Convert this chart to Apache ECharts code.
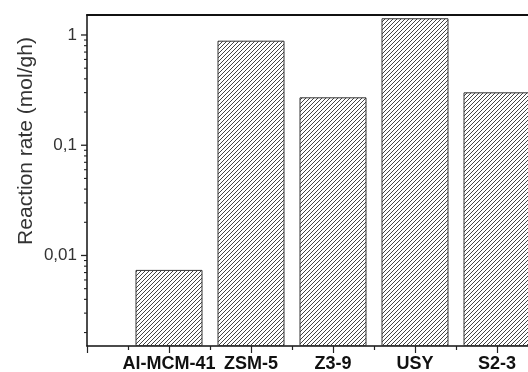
<!DOCTYPE html>
<html>
<head>
<meta charset="utf-8">
<script src="https://cdn.jsdelivr.net/npm/echarts@6/dist/echarts.min.js"></script>
<style>html,body{margin:0;padding:0;background:#fff}#c{width:528px;height:372px}</style>
</head>
<body>
<div id="c"></div>
<script>
// Data
var categories = ['Al-MCM-41', 'ZSM-5', 'Z3-9', 'USY', 'S2-3'];
var positions = [1, 2, 3, 4, 5];
var rates = [0.0074, 0.888, 0.272, 1.418, 0.302];
var yMajorTicks = [0.01, 0.1, 1];
var yMinorTicks = [0.002,0.003,0.004,0.005,0.006,0.007,0.008,0.009,
                   0.02,0.03,0.04,0.05,0.06,0.07,0.08,0.09,
                   0.2,0.3,0.4,0.5,0.6,0.7,0.8,0.9];
var yMin = 0.00151, yMax = 1.518;
var yTitle = 'Reaction rate (mol/gh)';

// hatch pattern
var pc = document.createElement('canvas');
pc.width = 4; pc.height = 4;
var g = pc.getContext('2d');
g.fillStyle = '#fff'; g.fillRect(0,0,4,4);
g.strokeStyle = '#444'; g.lineWidth = 1;
g.beginPath();
g.moveTo(-1,5); g.lineTo(5,-1);
g.moveTo(-1,1); g.lineTo(1,-1);
g.moveTo(3,5); g.lineTo(5,3);
g.stroke();

var barData = positions.map(function(p,i){ return [p, rates[i]]; });
var majorTickData = yMajorTicks.map(function(v){ return [0, v]; });
var minorTickData = yMinorTicks.map(function(v){ return [0, v]; });
var GW = 492;

function tickRenderer(len, lw) {
  return function(params, api) {
    var p = api.coord([api.value(0), api.value(1)]);
    return {
      type: 'line',
      shape: {x1: p[0] - len, y1: p[1], x2: p[0], y2: p[1]},
      style: {stroke: '#222', lineWidth: lw}
    };
  };
}

var chart = echarts.init(document.getElementById('c'), null, {renderer:'canvas'});
chart.setOption({
  animation: false,
  backgroundColor: '#fff',
  grid: {left: 87, top: 15, width: GW, height: 331, containLabel: false, outerBoundsMode: 'none'},
  graphic: [{
    type: 'text', x: 26, y: 141, rotation: Math.PI/2,
    style: {text: yTitle, font: '21px "Liberation Sans", Arial, sans-serif', fill: '#333',
            align: 'center', verticalAlign: 'middle'}
  }],
  xAxis: [{
    type: 'value', position: 'bottom', min: 0, max: 6, interval: 1,
    axisLine: {show: true, lineStyle: {color: '#111', width: 1.5}},
    axisTick: {show: true, length: 7, lineStyle: {color: '#222', width: 1.2}},
    minorTick: {show: true, splitNumber: 2, length: 4, lineStyle: {color: '#222', width: 1.2}},
    splitLine: {show: false},
    axisLabel: {
      margin: 9, color: '#111', fontSize: 18, fontWeight: 'bold',
      fontFamily: '"Liberation Sans", Arial, sans-serif',
      formatter: function(v){ var i = positions.indexOf(v); return i >= 0 ? categories[i] : ''; }
    }
  }, {
    type: 'value', position: 'top', min: 0, max: 6,
    axisLine: {show: true, onZero: false, lineStyle: {color: '#111', width: 2}},
    axisTick: {show: false}, axisLabel: {show: false}, splitLine: {show: false}
  }],
  yAxis: [{
    type: 'log', min: yMin, max: yMax, startValue: yMin, position: 'left',
    axisLine: {show: true, lineStyle: {color: '#111', width: 1.5}},
    axisTick: {show: false},
    axisLabel: {
      customValues: yMajorTicks, margin: 10, color: '#333', fontSize: 17,
      fontFamily: '"Liberation Sans", Arial, sans-serif',
      formatter: function(v){ return String(v).replace('.', ','); }
    },
    splitLine: {show: false}
  }],
  series: [{
    type: 'bar', xAxisIndex: 0, yAxisIndex: 0,
    barWidth: 67,
    data: barData,
    itemStyle: {color: {image: pc, repeat: 'repeat'}, borderColor: '#333', borderWidth: 1}
  }, {
    type: 'custom', xAxisIndex: 0, yAxisIndex: 0, clip: false, silent: true, z: 10,
    encode: {x: 0, y: 1},
    renderItem: tickRenderer(6, 1.3),
    data: majorTickData
  }, {
    type: 'custom', xAxisIndex: 0, yAxisIndex: 0, clip: false, silent: true, z: 10,
    encode: {x: 0, y: 1},
    renderItem: tickRenderer(3, 1.1),
    data: minorTickData
  }]
});
</script>
</body>
</html>
